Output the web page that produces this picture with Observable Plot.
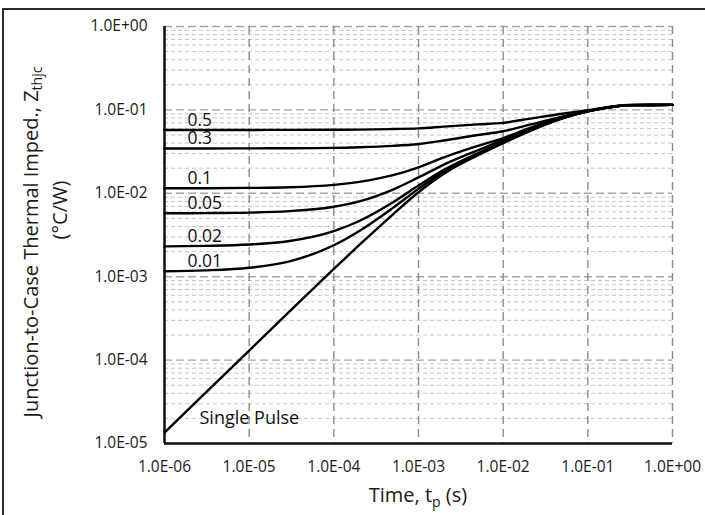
<!DOCTYPE html>
<html>
<head>
<meta charset="utf-8">
<script src="https://cdn.jsdelivr.net/npm/d3@7"></script>
<script src="https://cdn.jsdelivr.net/npm/@observablehq/plot@0.6"></script>
<style>
  html, body { margin: 0; padding: 0; background: #fff; }
  #wrap { position: relative; width: 705px; height: 515px; overflow: hidden; }
  #frame { position: absolute; left: 2px; top: 8px; width: 740px; height: 560px; border: 2px solid #2a2a2a; pointer-events: none; }
  #chart { position: absolute; left: 0; top: 0; }
</style>
</head>
<body>
<div id="wrap"><div id="chart"></div><div id="frame"></div></div>
<script>
// ---- data ----
const times = [1e-6, 3e-6, 1e-5, 3e-5, 1e-4, 2e-4, 5e-4, 1e-3, 2e-3, 5e-3, 1e-2, 2e-2, 5e-2, 1e-1, 2e-1, 3e-1, 1];
const seriesNames = ["0.5", "0.3", "0.1", "0.05", "0.02", "0.01", "Single Pulse"];
const z05    = [0.0575, 0.0575, 0.0575, 0.0576, 0.0578, 0.058, 0.059, 0.060, 0.063, 0.067, 0.070, 0.078, 0.090, 0.099, 0.110, 0.1145, 0.115];
const z03    = [0.0345, 0.0345, 0.0346, 0.0347, 0.035, 0.0356, 0.037, 0.039, 0.043, 0.050, 0.0555, 0.066, 0.083, 0.097, 0.1095, 0.114, 0.115];
const z01    = [0.0115, 0.0115, 0.0116, 0.0118, 0.0126, 0.0137, 0.0165, 0.0205, 0.027, 0.037, 0.046, 0.060, 0.082, 0.097, 0.1095, 0.114, 0.115];
const z005   = [0.00576, 0.00579, 0.00587, 0.00612, 0.0069, 0.0080, 0.0111, 0.0155, 0.0221, 0.0328, 0.0438, 0.058, 0.0808, 0.097, 0.109, 0.114, 0.115];
const z002   = [0.00231, 0.00234, 0.00243, 0.00268, 0.00352, 0.00465, 0.0078, 0.0124, 0.0191, 0.0302, 0.0415, 0.0562, 0.0797, 0.0963, 0.109, 0.114, 0.115];
const z001   = [0.00116, 0.00119, 0.00128, 0.00153, 0.00238, 0.00353, 0.00669, 0.0113, 0.0182, 0.0294, 0.0407, 0.0556, 0.0794, 0.0961, 0.109, 0.114, 0.115];
const zSingle = [1.35e-5, 4.0e-5, 1.30e-4, 3.85e-4, 1.24e-3, 2.4e-3, 5.6e-3, 0.0103, 0.0172, 0.0285, 0.040, 0.055, 0.079, 0.096, 0.109, 0.114, 0.115];
const xTicks = [1e-6, 1e-5, 1e-4, 1e-3, 1e-2, 1e-1, 1];
const xTickLabels = ["1.0E-06", "1.0E-05", "1.0E-04", "1.0E-03", "1.0E-02", "1.0E-01", "1.0E+00"];
const yTicks = [1e-5, 1e-4, 1e-3, 1e-2, 1e-1, 1];
const yTickLabels = ["1.0E-05", "1.0E-04", "1.0E-03", "1.0E-02", "1.0E-01", "1.0E+00"];

// ---- build tables ----
const allSeries = [z05, z03, z01, z005, z002, z001, zSingle];
const rows = [];
allSeries.forEach((s, i) => s.forEach((z, j) => rows.push({t: times[j], z, name: seriesNames[i]})));
const starts = allSeries.map((s, i) => ({t: times[0], z: s[0], name: seriesNames[i]}));
const dutyStarts = starts.filter(d => d.name !== "Single Pulse");
const singleStart = starts.filter(d => d.name === "Single Pulse");

// minor gridlines (2..9 within each decade)
const yMinor = [];
for (let k = 0; k < yTicks.length - 1; k++) for (let m = 2; m <= 9; m++) yMinor.push(yTicks[k] * m);

const font = "'Open Sans', sans-serif";
const chart = Plot.plot({
  width: 705, height: 515,
  marginLeft: 164, marginRight: 33, marginTop: 26, marginBottom: 72,
  style: {fontFamily: font, fontSize: "15.5px", color: "#1a1a1a", background: "transparent"},
  x: {type: "log", domain: [1e-6, 1], ticks: xTicks, tickFormat: d => xTickLabels[xTicks.indexOf(d)], tickSize: 0, tickPadding: 17, label: null},
  y: {type: "log", domain: [1e-5, 1], ticks: yTicks, tickFormat: d => yTickLabels[yTicks.indexOf(d)], tickSize: 0, tickPadding: 17, label: null},
  marks: [
    Plot.ruleY(yMinor, {stroke: "#c4c4c4", strokeWidth: 1, strokeDasharray: "4,3"}),
    Plot.ruleY(yTicks, {stroke: "#a6a6a6", strokeWidth: 1.4, strokeDasharray: "8,4"}),
    Plot.ruleX(xTicks, {stroke: "#8c8c8c", strokeWidth: 1.4, strokeDasharray: "8,5"}),
    Plot.ruleX([xTicks[0]], {stroke: "#111", strokeWidth: 2.5}),
    Plot.ruleY([yTicks[0]], {stroke: "#111", strokeWidth: 2.5}),
    Plot.line(rows, {x: "t", y: "z", z: "name", stroke: "#000", strokeWidth: 2.4, curve: "monotone-x"}),
    Plot.text(dutyStarts, {x: "t", y: "z", text: "name", dx: 23, dy: -10, textAnchor: "start", fontSize: 17.5, fill: "#111"}),
    Plot.text(singleStart, {x: "t", y: "z", text: "name", dx: 35, dy: -14, textAnchor: "start", fontSize: 18, fill: "#111"})
  ]
});
document.getElementById("chart").appendChild(chart);

// axis titles with subscripts
const svg = d3.select(chart);
const yt = svg.append("text")
  .attr("transform", "translate(33,242) rotate(-90)")
  .attr("text-anchor", "middle").attr("dominant-baseline", "middle")
  .style("font-family", font).style("font-size", "20px").attr("fill", "#1a1a1a");
yt.append("tspan").text("Junction-to-Case Thermal Imped., Z");
yt.append("tspan").text("thjc").attr("dy", 5).style("font-size", "14px");
svg.append("text")
  .attr("transform", "translate(62,210) rotate(-90)")
  .attr("text-anchor", "middle").attr("dominant-baseline", "middle")
  .style("font-family", font).style("font-size", "20px").attr("fill", "#1a1a1a")
  .text("(°C/W)");
const xt = svg.append("text")
  .attr("x", 418).attr("y", 502).attr("text-anchor", "middle")
  .style("font-family", font).style("font-size", "20px").attr("fill", "#1a1a1a");
xt.append("tspan").text("Time, t");
xt.append("tspan").text("p").attr("dy", 5).style("font-size", "14px");
xt.append("tspan").text(" (s)").attr("dy", -5);
</script>
</body>
</html>
